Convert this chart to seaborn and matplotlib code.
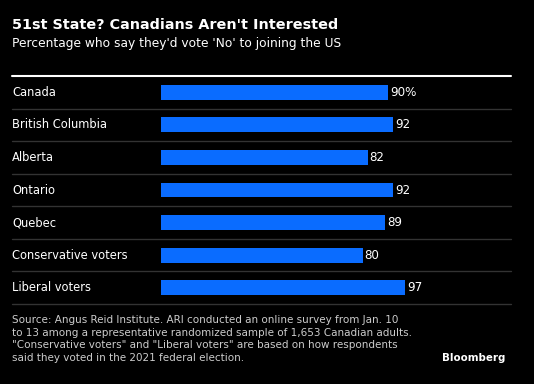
import numpy as np
import pandas as pd
import matplotlib.pyplot as plt
import matplotlib.transforms as mtransforms
import seaborn as sns

# data
groups = ["Canada", "British Columbia", "Alberta", "Ontario", "Quebec",
          "Conservative voters", "Liberal voters"]
pct_no = [90, 92, 82, 92, 89, 80, 97]
value_labels = ["90%", "92", "82", "92", "89", "80", "97"]

df = pd.DataFrame({"group": groups, "pct": pct_no})

sns.set_style("dark")
plt.rcParams['font.family'] = ['DejaVu Sans']

fig = plt.figure(figsize=(5.34, 3.84), dpi=100, facecolor="black")
ax = fig.add_axes([12/534, 1-304/384, 499/534, 228/384])
ax.set_facecolor("black")

sns.barplot(data=df, x="pct", y="group", orient="h", color="#0a6cff",
            saturation=1, width=0.46, linewidth=0, edgecolor="none", ax=ax)

ax.set_xlim(-59.1, 138.9)
ax.set_ylim(len(groups)-0.5, -0.5)
ax.set_xticks([])
ax.set_yticks([])
ax.set_xlabel("")
ax.set_ylabel("")
for s in ax.spines.values():
    s.set_visible(False)
ax.grid(False)

# row separators
for i in range(len(groups)):
    ax.axhline(i+0.5, color="#333333", lw=1, clip_on=False)
ax.axhline(-0.5, color="white", lw=1.5, clip_on=False)

trans = mtransforms.blended_transform_factory(ax.transAxes, ax.transData)
for i, (g, v, lab) in enumerate(zip(groups, pct_no, value_labels)):
    ax.text(0, i, g, transform=trans, color="white", fontsize=8.3,
            va="center", ha="left")
    ax.text(v + 0.8, i, lab, color="white", fontsize=8.6, va="center", ha="left")

fig.text(12/534, 1-25/384, "51st State? Canadians Aren't Interested",
         color="white", fontsize=10.4, fontweight="bold", va="center")
fig.text(12/534, 1-44/384, "Percentage who say they'd vote 'No' to joining the US",
         color="white", fontsize=8.8, va="center")

note = ("Source: Angus Reid Institute. ARI conducted an online survey from Jan. 10\n"
        "to 13 among a representative randomized sample of 1,653 Canadian adults.\n"
        "\"Conservative voters\" and \"Liberal voters\" are based on how respondents\n"
        "said they voted in the 2021 federal election.")
fig.text(12/534, 1-315/384, note, color="#cccccc", fontsize=7.5, va="top",
         linespacing=1.32)
fig.text(505/534, 1-358/384, "Bloomberg", color="white", fontsize=7.4,
         fontweight="bold", ha="right", va="center")

plt.savefig("out.png", dpi=100, facecolor="black")
